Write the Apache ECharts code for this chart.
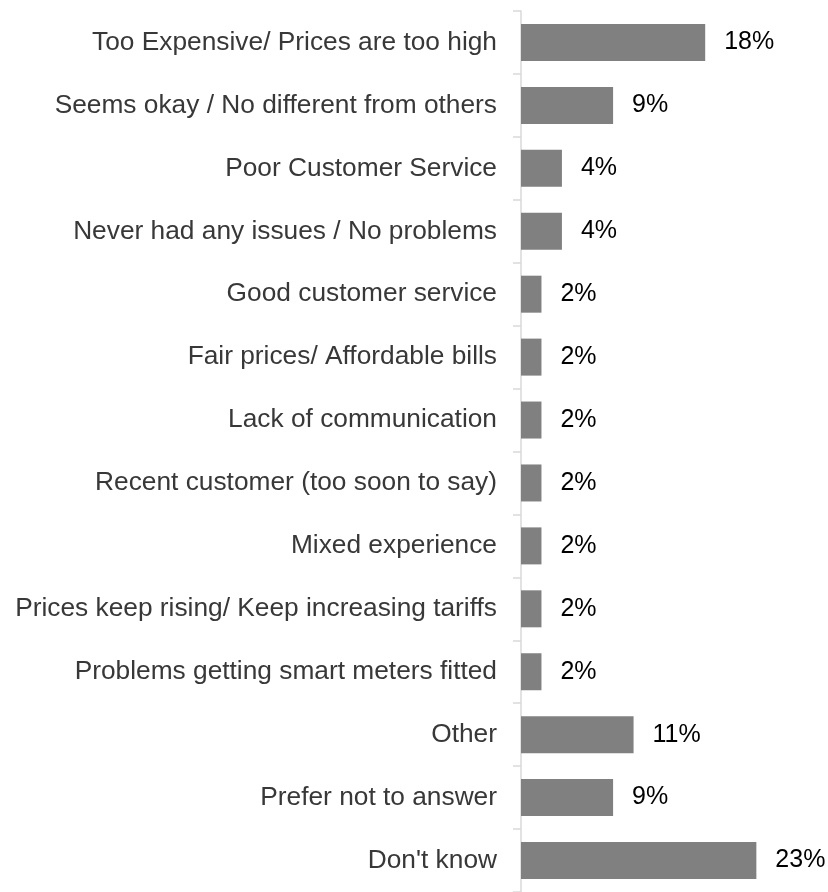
<!DOCTYPE html>
<html>
<head>
<meta charset="utf-8">
<title>Reasons</title>
<script src="https://cdn.jsdelivr.net/npm/echarts@6/dist/echarts.min.js"></script>
<style>
  html, body { margin: 0; padding: 0; background: #ffffff; }
  #chart { width: 828px; height: 892px; }
</style>
</head>
<body>
<div id="chart"></div>
<script>
// Response categories, listed top to bottom
const categories = [
  "Too Expensive/ Prices are too high",
  "Seems okay / No different from others",
  "Poor Customer Service",
  "Never had any issues / No problems",
  "Good customer service",
  "Fair prices/ Affordable bills",
  "Lack of communication",
  "Recent customer (too soon to say)",
  "Mixed experience",
  "Prices keep rising/ Keep increasing tariffs",
  "Problems getting smart meters fitted",
  "Other",
  "Prefer not to answer",
  "Don't know"
];

// Share of respondents, percent
const shares = [18, 9, 4, 4, 2, 2, 2, 2, 2, 2, 2, 11, 9, 23];

const chart = echarts.init(document.getElementById('chart'), null, { renderer: 'canvas' });

chart.setOption({
  animation: false,
  backgroundColor: '#ffffff',
  grid: { left: 521, top: 11, width: 308, height: 884, containLabel: false },
  xAxis: {
    type: 'value',
    min: 0,
    max: 30,
    show: false
  },
  yAxis: {
    type: 'category',
    inverse: true,
    data: categories,
    axisLine: { show: true, lineStyle: { color: '#d9d9d9', width: 1.5 } },
    axisTick: { show: true, length: 8, lineStyle: { color: '#d9d9d9', width: 1.5 } },
    axisLabel: {
      margin: 24,
      color: '#383838',
      fontFamily: 'Liberation Sans, Arial, sans-serif',
      fontSize: 26.3
    },
    splitLine: { show: false }
  },
  series: [{
    type: 'bar',
    data: shares,
    barWidth: 37,
    itemStyle: { color: '#808080' },
    label: {
      show: true,
      position: 'right',
      distance: 19,
      formatter: p => p.value + '%',
      color: '#000000',
      fontFamily: 'Liberation Sans, Arial, sans-serif',
      fontSize: 25
    }
  }]
});
</script>
</body>
</html>
